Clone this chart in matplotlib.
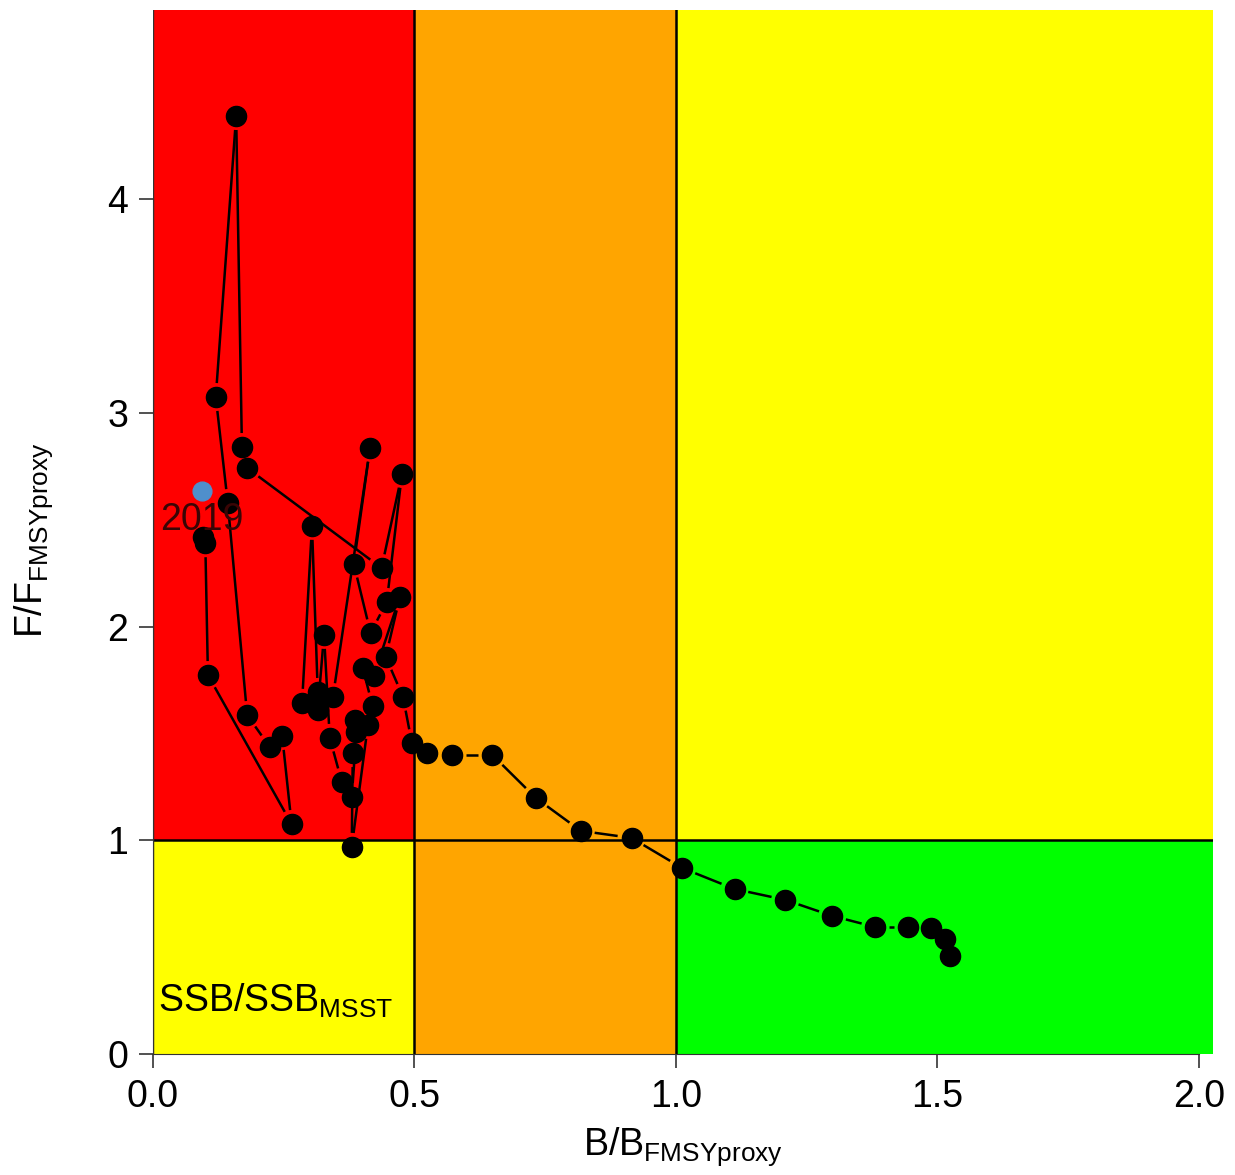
import matplotlib
matplotlib.use("Agg")
import matplotlib.pyplot as plt
import numpy as np

plt.rcParams["font.family"] = ["Liberation Sans", "DejaVu Sans"]
plt.rcParams["mathtext.fontset"] = "custom"
plt.rcParams["mathtext.rm"] = "Liberation Sans"
plt.rcParams["mathtext.it"] = "Liberation Sans:italic"

# stock trajectory, oldest year first (B/Bmsy proxy, F/Fmsy proxy)
b_ratio = [1.524, 1.515, 1.488, 1.444, 1.381, 1.299, 1.209, 1.112, 1.012, 0.915,
           0.818, 0.732, 0.649, 0.571, 0.523, 0.495, 0.478, 0.445, 0.472, 0.422,
           0.401, 0.420, 0.411, 0.380, 0.382, 0.386, 0.389, 0.380, 0.361, 0.338,
           0.327, 0.315, 0.285, 0.304, 0.315, 0.344, 0.415, 0.384, 0.416, 0.447,
           0.476, 0.437, 0.180, 0.170, 0.159, 0.120, 0.143, 0.180, 0.223, 0.247,
           0.265, 0.105, 0.100, 0.095]
f_ratio = [0.459, 0.538, 0.590, 0.594, 0.594, 0.646, 0.721, 0.772, 0.870, 1.011,
           1.044, 1.198, 1.399, 1.399, 1.409, 1.455, 1.671, 1.858, 2.139, 1.769,
           1.806, 1.628, 1.540, 0.969, 1.408, 1.563, 1.507, 1.203, 1.273, 1.479,
           1.961, 1.610, 1.643, 2.471, 1.694, 1.670, 2.836, 2.293, 1.970, 2.115,
           2.714, 2.274, 2.742, 2.840, 4.389, 3.074, 2.578, 1.586, 1.437, 1.488,
           1.076, 1.773, 2.390, 2.420]

last_year = "2019"
last_b = 0.094
last_f = 2.634

b_limits = [0.0, 0.5, 1.0]
f_limit = 1.0
x_max, y_max = 2.027, 4.885

fs = 27

fig = plt.figure(figsize=(12.35, 11.75), dpi=100)
ax = fig.add_axes([0.1239, 0.103, 0.8583, 0.8885])
ax.set_xlim(0, x_max)
ax.set_ylim(0, y_max)

# status zones
ax.fill_between([b_limits[0], b_limits[1]], f_limit, y_max, color="#FF0000", lw=0, zorder=0)
ax.fill_between([b_limits[0], b_limits[1]], 0, f_limit, color="#FFFF00", lw=0, zorder=0)
ax.fill_between([b_limits[1], b_limits[2]], 0, y_max, color="#FFA500", lw=0, zorder=0)
ax.fill_between([b_limits[2], x_max], f_limit, y_max, color="#FFFF00", lw=0, zorder=0)
ax.fill_between([b_limits[2], x_max], 0, f_limit, color="#00FF00", lw=0, zorder=0)
for b in b_limits[1:]:
    ax.axvline(b, color="black", lw=1.8, zorder=1)
ax.axhline(f_limit, color="black", lw=1.8, zorder=1)
ax.axvline(0, color="#333333", lw=1.0, zorder=1)

# R type="b": lines broken around each point
pts = ax.transData.transform(np.column_stack([b_ratio, f_ratio]))
gap = 14
inv = ax.transData.inverted()
for p0, p1 in zip(pts[:-1], pts[1:]):
    d = p1 - p0
    length = np.hypot(*d)
    if length <= 2 * gap:
        continue
    u = d / length
    seg = inv.transform([p0 + u * gap, p1 - u * gap])
    ax.plot(seg[:, 0], seg[:, 1], color="black", lw=1.8, zorder=3,
            solid_capstyle="butt")

ax.plot(b_ratio, f_ratio, "o", ms=14.5, color="black", zorder=4)
ax.plot(last_b, last_f, "o", ms=13.5, color="#4F8FCC", zorder=5)
ax.text(last_b, last_f - 0.135, last_year, ha="center", va="center",
        fontsize=fs, color="#3a0505", zorder=6)

ax.text(0.01, 0.2, r"SSB/SSB$_{\mathrm{MSST}}$", fontsize=fs, va="baseline", zorder=6)

ax.set_xticks([0, 0.5, 1.0, 1.5, 2.0])
ax.set_xticklabels(["0.0", "0.5", "1.0", "1.5", "2.0"])
ax.set_yticks([0, 1, 2, 3, 4])
ax.tick_params(labelsize=fs, length=10, width=1.2, color="#333333", pad=8)

for s in ["top", "right"]:
    ax.spines[s].set_visible(False)
ax.spines["bottom"].set_bounds(0, 2)
ax.spines["left"].set_bounds(0, 4)
ax.spines["bottom"].set_color("#333333")
ax.spines["left"].set_color("#333333")

ax.set_xlabel(r"B/B$_{\mathrm{FMSYproxy}}$", fontsize=fs)
ax.xaxis.set_label_coords(0.5, -0.068)
fig.text(34 / 1235, 1 - 540 / 1175, r"F/F$_{\mathrm{FMSYproxy}}$", fontsize=fs,
         rotation=90, ha="center", va="center")

fig.savefig("out.png", dpi=100)
